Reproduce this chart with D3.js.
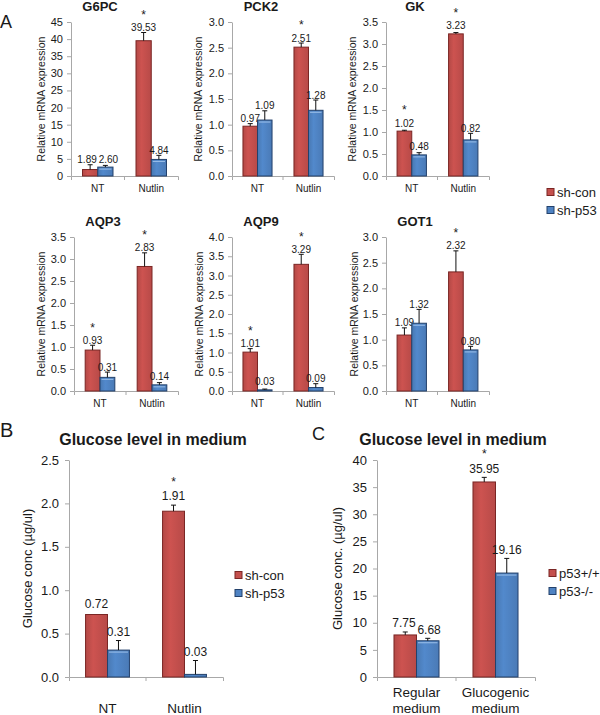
<!DOCTYPE html>
<html><head><meta charset="utf-8">
<script src="https://cdn.jsdelivr.net/npm/d3@7"></script>
<style>body{margin:0;background:#fff}svg{display:block;font-family:Arial,"Liberation Sans",sans-serif}</style>
</head><body><svg id="c" width="600" height="715"></svg>
<script>
// ---------- DATA ----------
// Panel A
const genes = ["G6PC", "PCK2", "GK", "AQP3", "AQP9", "GOT1"];
const conditionsA = ["NT", "Nutlin"];
const seriesA = ["sh-con", "sh-p53"];
const shConA = [[1.89, 39.53], [0.97, 2.51], [1.02, 3.23], [0.93, 2.83], [1.01, 3.29], [1.09, 2.32]];
const shP53A = [[2.60, 4.84], [1.09, 1.28], [0.48, 0.82], [0.31, 0.14], [0.03, 0.09], [1.32, 0.80]];
const shConErrA = [[1.4, 2.4], [0.05, 0.08], [0.02, 0.03], [0.11, 0.31], [0.09, 0.26], [0.14, 0.41]];
const shP53ErrA = [[0.5, 1.2], [0.18, 0.20], [0.05, 0.15], [0.12, 0.05], [0.02, 0.10], [0.27, 0.07]];
const shConSigA = [[false, true], [false, true], [true, true], [true, true], [true, true], [false, true]];
const yMaxA = [45, 3.0, 3.5, 3.5, 4.0, 3.0];
const yStepA = [5, 0.5, 0.5, 0.5, 0.5, 0.5];
const yFmtA = ["d", ".1f", ".1f", ".1f", ".1f", ".1f"];
const yLabelA = "Relative mRNA expression";

// Panel B
const titleB = "Glucose level in medium";
const conditionsB = [["NT"], ["Nutlin"]];
const seriesB = ["sh-con", "sh-p53"];
const shConB = [0.72, 1.91];
const shP53B = [0.31, 0.03];
const shConErrB = [0, 0.07];
const shP53ErrB = [0.11, 0.16];
const shConSigB = [false, true];
const yTicksB = [0, 0.5, 1.0, 1.5, 2.0, 2.5];
const yLabelB = "Glucose conc (\u00b5g/ul)";

// Panel C
const titleC = "Glucose level in medium";
const conditionsC = [["Regular", "medium"], ["Glucogenic", "medium"]];
const seriesC = ["p53+/+", "p53-/-"];
const wtC = [7.75, 35.95];
const koC = [6.68, 19.16];
const wtErrC = [0.55, 0.85];
const koErrC = [0.45, 2.7];
const wtSigC = [false, true];
const yTicksC = [0, 5, 10, 15, 20, 25, 30, 35, 40];
const yLabelC = "Glucose conc. (\u00b5g/ul)";

// ---------- STYLE / LAYOUT ----------
const RED = "#c4504d", RED_S = "#7a2624", BLUE = "#4f83c3", BLUE_S = "#23416b";
const AX = "#a8a8a8", TXT = "#1a1a1a";
const svg = d3.select("#c");

const defs = svg.append("defs");
function grad(id, c) {
  const g = defs.append("linearGradient").attr("id", id).attr("x1", 0).attr("x2", 1).attr("y1", 0).attr("y2", 0);
  g.append("stop").attr("offset", "0%").attr("stop-color", d3.color(c).darker(0.25));
  g.append("stop").attr("offset", "35%").attr("stop-color", d3.color(c).brighter(0.12));
  g.append("stop").attr("offset", "100%").attr("stop-color", d3.color(c).darker(0.2));
}
grad("gr", RED); grad("gb", BLUE);

function panel(cfg) {
  const g = svg.append("g");
  const x0 = d3.scaleBand().domain(d3.range(cfg.cats.length)).range([cfg.left, cfg.right])
    .paddingInner(0.43).paddingOuter(0.215);
  const x1 = d3.scaleBand().domain([0, 1]).range([0, x0.bandwidth()]);
  const y = d3.scaleLinear().domain([0, cfg.yMax]).range([cfg.bottom, cfg.top]);

  // y axis
  const ya = g.append("g").attr("transform", `translate(${cfg.left},0)`)
    .call(d3.axisLeft(y).tickValues(cfg.ticks).tickFormat(d3.format(cfg.fmt)).tickSize(4).tickSizeOuter(0).tickPadding(cfg.tickPad));
  ya.select(".domain").attr("stroke", AX);
  ya.selectAll(".tick line").attr("stroke", AX);
  ya.selectAll(".tick text").attr("font-size", cfg.tickFont).attr("fill", TXT).attr("font-family", null);

  // x axis
  const xa = g.append("g").attr("transform", `translate(0,${cfg.bottom})`)
    .call(d3.axisBottom(x0).tickSize(0).tickSizeOuter(4).tickFormat(""));
  xa.select(".domain").attr("stroke", AX);
  xa.selectAll(".tick").remove();
  const step = x0.step();
  g.selectAll(".sep").data(d3.range(1, cfg.cats.length)).join("line")
    .attr("x1", i => cfg.left + i * step).attr("x2", i => cfg.left + i * step)
    .attr("y1", cfg.bottom).attr("y2", cfg.bottom + 4).attr("stroke", AX);

  // category labels
  cfg.cats.forEach((lines, i) => {
    const t = g.append("text").attr("text-anchor", "middle").attr("font-size", cfg.catFont).attr("fill", TXT);
    lines.forEach((ln, k) => {
      t.append("tspan").attr("x", x0(i) + x0.bandwidth() / 2)
        .attr("y", cfg.bottom + cfg.catOff[lines.length - 1][k]).text(ln);
    });
  });

  // bars
  const fmt = d3.format(".2f");
  const series = [
    { vals: cfg.a, errs: cfg.aErr, sig: cfg.aSig, fill: "url(#gr)", stroke: RED_S },
    { vals: cfg.b, errs: cfg.bErr, sig: null, fill: "url(#gb)", stroke: BLUE_S }
  ];
  const labels = cfg.cats.map(() => []);
  series.forEach((s, si) => {
    s.vals.forEach((v, i) => {
      const bx = x0(i) + x1(si), bw = x1.bandwidth();
      g.append("rect").attr("x", bx).attr("y", y(v)).attr("width", bw).attr("height", cfg.bottom - y(v))
        .attr("fill", s.fill).attr("stroke", s.stroke).attr("stroke-width", 1);
      if (si === 1 && cfg.bottom - y(v) > 4) {
        g.append("line").attr("x1", bx + 1.5).attr("x2", bx + bw - 1.5).attr("y1", y(v) + 2).attr("y2", y(v) + 2)
          .attr("stroke", "#9cc0ea").attr("stroke-width", 1);
      }
      const e = s.errs[i];
      const cx = bx + bw / 2;
      if (e > 0) {
        g.append("line").attr("x1", cx).attr("x2", cx).attr("y1", y(v)).attr("y2", y(v + e)).attr("stroke", "#111");
        g.append("line").attr("x1", cx - 2.5).attr("x2", cx + 2.5).attr("y1", y(v + e)).attr("y2", y(v + e)).attr("stroke", "#111");
      }
      const lc = Math.min(y(v) - cfg.lblBar, y(v + e) - cfg.lblErr);
      const t = g.append("text").attr("x", cx).attr("y", lc).attr("dy", "0.36em").attr("text-anchor", "middle")
        .attr("font-size", cfg.valFont).attr("fill", TXT).text(fmt(v));
      let star = null;
      if (s.sig && s.sig[i]) {
        star = g.append("text").attr("x", cx).attr("y", 0).attr("text-anchor", "middle")
          .attr("font-size", cfg.starFont).attr("fill", TXT).text("*");
        // sit the asterisk just above its value label
        const lb = t.node().getBBox(), sb = star.node().getBBox();
        star.attr("y", lb.y - (sb.y + sb.height) - 0.3);
      }
      labels[i].push({ t, star, cx });
    });
  });
  // nudge the two value labels of one category apart when they collide
  labels.forEach(([a, b]) => {
    const ba = a.t.node().getBBox(), bb = b.t.node().getBBox();
    const vOver = Math.min(ba.y + ba.height, bb.y + bb.height) - Math.max(ba.y, bb.y);
    const hOver = (ba.x + ba.width) - bb.x;
    if (vOver > 0 && hOver > -1) {
      const d = (hOver + 1.5) / 2;
      a.t.attr("x", a.cx - d); if (a.star) a.star.attr("x", a.cx - d);
      b.t.attr("x", b.cx + d);
    }
  });

  // title
  g.append("text").attr("x", cfg.titleX).attr("y", cfg.titleY).attr("text-anchor", "middle")
    .attr("font-size", cfg.titleFont).attr("font-weight", "bold").attr("fill", TXT).text(cfg.title);
  // y label
  g.append("text").attr("transform", `translate(${cfg.ylabX},${(cfg.top + cfg.bottom) / 2}) rotate(-90)`)
    .attr("text-anchor", "middle").attr("dy", "0.35em").attr("font-size", cfg.ylabFont).attr("fill", TXT).text(cfg.ylab);
}

function legend(x, y0, gap, names, font) {
  const g = svg.append("g");
  names.forEach((n, i) => {
    const cy = y0 + i * gap;
    g.append("rect").attr("x", x).attr("y", cy - 3.5).attr("width", 7).attr("height", 7)
      .attr("fill", i === 0 ? RED : BLUE).attr("stroke", i === 0 ? RED_S : BLUE_S);
    g.append("text").attr("x", x + 10).attr("y", cy).attr("dy", "0.36em").attr("font-size", font).attr("fill", TXT).text(n);
  });
}

// ---------- PANEL A ----------
const colLeft = [[71, 232, 386], [74, 232, 386]];
const colRight = [178, 334, 489];
const rowTop = [22, 237], rowBottom = [176, 391];
const ylabX = [[41, 198, 352], [41, 199, 354]];
genes.forEach((gname, k) => {
  const r = Math.floor(k / 3), c = k % 3;
  const yMax = yMaxA[k];
  panel({
    cats: conditionsA.map(d => [d]), left: colLeft[r][c], right: colRight[c], top: rowTop[r], bottom: rowBottom[r],
    yMax, ticks: d3.range(0, yMax + 1e-9, yStepA[k]).map(v => +v.toFixed(2)), fmt: yFmtA[k], tickPad: 4, tickFont: 11,
    catFont: 10, catOff: [[16]],
    a: shConA[k], b: shP53A[k], aErr: shConErrA[k], bErr: shP53ErrA[k], aSig: shConSigA[k],
    valFont: 10, lblBar: 8, lblErr: 5, starFont: 12,
    title: gname, titleX: colLeft[r][c] + 29, titleY: rowTop[r] - 11, titleFont: 13,
    ylab: yLabelA, ylabX: ylabX[r][c], ylabFont: 10.5
  });
});
legend(547, 192, 18, seriesA, 13);
svg.append("text").attr("x", 0).attr("y", 28).attr("font-size", 18).attr("fill", TXT).text("A");

// ---------- PANEL B ----------
panel({
  cats: conditionsB, left: 69, right: 223, top: 460, bottom: 677,
  yMax: 2.5, ticks: yTicksB, fmt: ".1f", tickPad: 6, tickFont: 13,
  catFont: 13.5, catOff: [[36], [20, 36]],
  a: shConB, b: shP53B, aErr: shConErrB, bErr: shP53ErrB, aSig: shConSigB,
  valFont: 12, lblBar: 11, lblErr: 9, starFont: 12,
  title: titleB, titleX: 153, titleY: 445, titleFont: 16,
  ylab: yLabelB, ylabX: 27, ylabFont: 13
});
legend(235, 575, 18, seriesB, 13);
svg.append("text").attr("x", 0).attr("y", 437).attr("font-size", 20).attr("fill", TXT).text("B");

// ---------- PANEL C ----------
panel({
  cats: conditionsC, left: 377, right: 535, top: 460, bottom: 677,
  yMax: 40, ticks: yTicksC, fmt: "d", tickPad: 6, tickFont: 13,
  catFont: 13.5, catOff: [[36], [20, 36]],
  a: wtC, b: koC, aErr: wtErrC, bErr: koErrC, aSig: wtSigC,
  valFont: 12, lblBar: 11, lblErr: 9, starFont: 12,
  title: titleC, titleX: 453, titleY: 445, titleFont: 16,
  ylab: yLabelC, ylabX: 337, ylabFont: 13
});
legend(549, 573, 18, seriesC, 13);
svg.append("text").attr("x", 312).attr("y", 440).attr("font-size", 18).attr("fill", TXT).text("C");
</script></body></html>
